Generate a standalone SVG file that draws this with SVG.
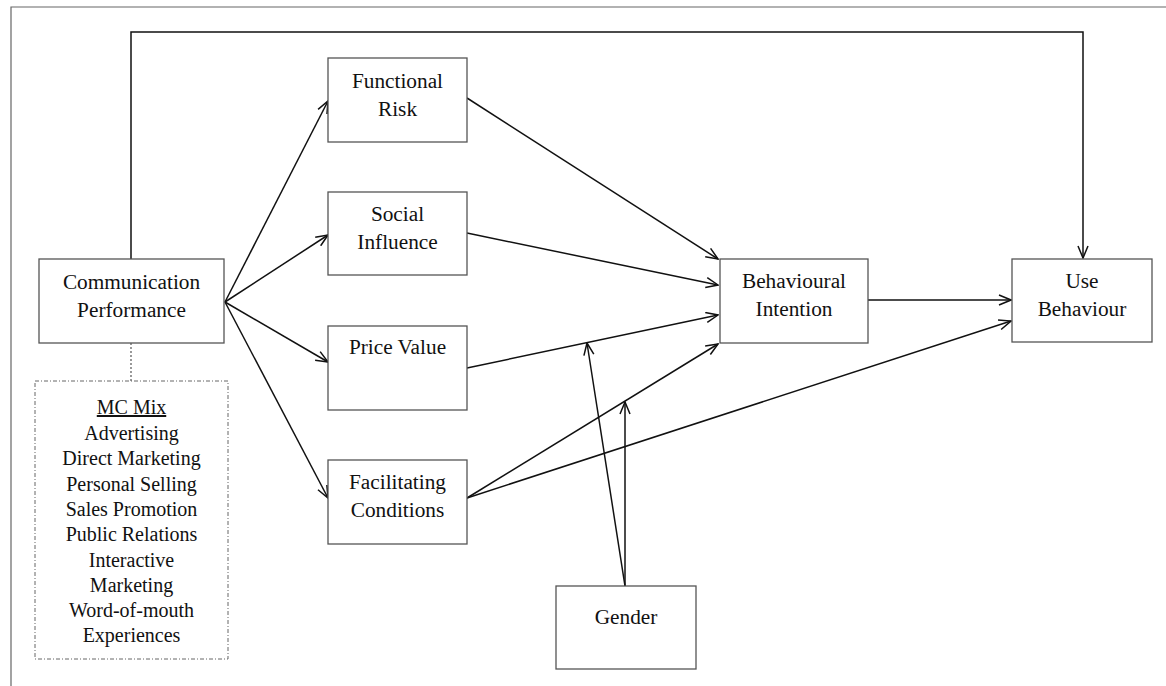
<svg xmlns="http://www.w3.org/2000/svg" width="1166" height="686" viewBox="0 0 1166 686">
  <style>
    .box { fill: #fff; stroke: #555; stroke-width: 1.3; }
    .mix { fill: #fff; stroke: #666; stroke-width: 1; stroke-dasharray: 4 2 1 2; }
    .lbl { font-family: "Liberation Serif", "Times New Roman", serif; font-size: 21.3px; fill: #111; text-anchor: middle; }
    .item { font-family: "Liberation Serif", "Times New Roman", serif; font-size: 20px; fill: #111; text-anchor: middle; }
    .edge { fill: none; stroke: #111; stroke-width: 1.5; }
    .frame { fill: none; stroke: #666; stroke-width: 1.2; }
  </style>
  <defs>
    <marker id="arrow" markerWidth="14" markerHeight="12" refX="13" refY="6" orient="auto" markerUnits="userSpaceOnUse">
      <path d="M1,1 L13,6 L1,11" fill="none" stroke="#111" stroke-width="1.5"/>
    </marker>
  </defs>

  <rect width="1166" height="686" fill="#fff"/>

  <!-- page frame -->
  <path class="frame" d="M11,686 L11,7 L1166,7"/>

  <!-- connectors -->
  <g id="connectors">
    <path class="edge" d="M131,259 L131,32 L1083,32 L1083,258" marker-end="url(#arrow)"/>
    <line class="edge" x1="225" y1="302" x2="328" y2="101" marker-end="url(#arrow)"/>
    <line class="edge" x1="225" y1="302" x2="328" y2="235" marker-end="url(#arrow)"/>
    <line class="edge" x1="225" y1="302" x2="328" y2="362" marker-end="url(#arrow)"/>
    <line class="edge" x1="225" y1="302" x2="328" y2="498" marker-end="url(#arrow)"/>
    <line class="edge" x1="467" y1="98" x2="718" y2="259" marker-end="url(#arrow)"/>
    <line class="edge" x1="467" y1="233" x2="718" y2="285" marker-end="url(#arrow)"/>
    <line class="edge" x1="467" y1="368" x2="718" y2="315" marker-end="url(#arrow)"/>
    <line class="edge" x1="467" y1="498" x2="718" y2="344" marker-end="url(#arrow)"/>
    <line class="edge" x1="467" y1="498" x2="1011" y2="321" marker-end="url(#arrow)"/>
    <line class="edge" x1="868" y1="300" x2="1011" y2="300" marker-end="url(#arrow)"/>
    <line class="edge" x1="625" y1="586" x2="587" y2="343" marker-end="url(#arrow)"/>
    <line class="edge" x1="625" y1="586" x2="625" y2="402" marker-end="url(#arrow)"/>
    <line x1="131" y1="343" x2="131" y2="381" stroke="#555" stroke-width="1.2" stroke-dasharray="2 2"/>
  </g>

  <g id="communication-performance">
    <rect class="box" x="39" y="259" width="185" height="84"/>
    <text class="lbl" x="131.5" y="289">Communication</text>
    <text class="lbl" x="131.5" y="317">Performance</text>
  </g>

  <g id="mc-mix">
    <rect class="mix" x="35" y="381" width="193" height="278"/>
    <text class="item" x="131.5" y="414" text-decoration="underline">MC Mix</text>
    <text class="item" x="131.5" y="439.5">Advertising</text>
    <text class="item" x="131.5" y="465">Direct Marketing</text>
    <text class="item" x="131.5" y="490.5">Personal Selling</text>
    <text class="item" x="131.5" y="516">Sales Promotion</text>
    <text class="item" x="131.5" y="541">Public Relations</text>
    <text class="item" x="131.5" y="566.5">Interactive</text>
    <text class="item" x="131.5" y="592">Marketing</text>
    <text class="item" x="131.5" y="617">Word-of-mouth</text>
    <text class="item" x="131.5" y="642">Experiences</text>
  </g>

  <g id="functional-risk">
    <rect class="box" x="328" y="58" width="139" height="84"/>
    <text class="lbl" x="397.5" y="88">Functional</text>
    <text class="lbl" x="397.5" y="116">Risk</text>
  </g>

  <g id="social-influence">
    <rect class="box" x="328" y="192" width="139" height="83"/>
    <text class="lbl" x="397.5" y="221">Social</text>
    <text class="lbl" x="397.5" y="249">Influence</text>
  </g>

  <g id="price-value">
    <rect class="box" x="328" y="326" width="139" height="84"/>
    <text class="lbl" x="397.5" y="354">Price Value</text>
  </g>

  <g id="facilitating-conditions">
    <rect class="box" x="328" y="460" width="139" height="84"/>
    <text class="lbl" x="397.5" y="489">Facilitating</text>
    <text class="lbl" x="397.5" y="517">Conditions</text>
  </g>

  <g id="behavioural-intention">
    <rect class="box" x="720" y="259" width="148" height="84"/>
    <text class="lbl" x="794" y="288">Behavioural</text>
    <text class="lbl" x="794" y="316">Intention</text>
  </g>

  <g id="use-behaviour">
    <rect class="box" x="1012" y="259" width="140" height="83"/>
    <text class="lbl" x="1082" y="288">Use</text>
    <text class="lbl" x="1082" y="316">Behaviour</text>
  </g>

  <g id="gender">
    <rect class="box" x="556" y="586" width="140" height="83"/>
    <text class="lbl" x="626" y="624">Gender</text>
  </g>
</svg>
